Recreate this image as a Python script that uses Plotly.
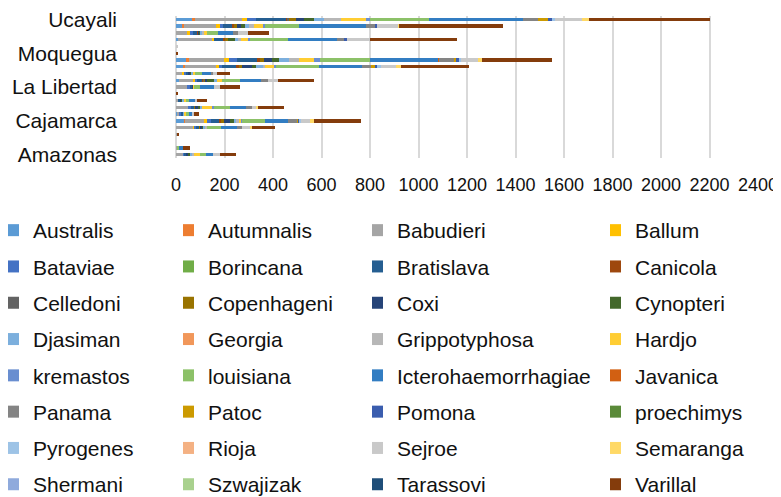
import plotly.graph_objects as go

regions = ["Amazonas", "Áncash", "Apurímac", "Arequipa", "Ayacucho", "Cajamarca",
           "Callao", "Cusco", "Huánuco", "Junín", "La Libertad", "Lambayeque", "Lima",
           "Loreto", "Madre de Dios", "Moquegua", "Pasco", "Piura", "San Martín",
           "Tumbes", "Ucayali"]
shown_ticks = ["Amazonas", "Cajamarca", "La Libertad", "Moquegua", "Ucayali"]
x_ticks = [0, 200, 400, 600, 800, 1000, 1200, 1400, 1600, 1800, 2000, 2200, 2400]

australis = [0, 0, 0, 4, 0, 35, 6, 0, 0, 4, 0, 11, 0, 32, 42, 0, 0, 7, 0, 25, 65]
autumnalis = [0, 0, 0, 0, 0, 4, 0, 0, 0, 0, 0, 0, 0, 4, 11, 0, 0, 0, 0, 10, 15]
babudieri = [30, 6, 0, 4, 71, 76, 10, 53, 12, 0, 48, 62, 28, 127, 144, 0, 0, 142, 49, 130, 193]
ballum = [0, 0, 0, 0, 5, 14, 0, 0, 0, 0, 0, 7, 5, 16, 23, 0, 0, 7, 7, 18, 21]
bataviae = [5, 0, 0, 0, 5, 14, 8, 8, 0, 0, 8, 8, 8, 11, 32, 0, 0, 0, 14, 11, 34]
borincana = [0] * 21
bratislava = [10, 0, 0, 0, 14, 38, 6, 14, 6, 0, 10, 20, 10, 58, 82, 0, 0, 41, 18, 37, 124]
canicola = [0, 0, 0, 0, 0, 5, 0, 0, 0, 0, 0, 4, 0, 11, 11, 0, 0, 8, 3, 7, 9]
celledoni = [0, 0, 0, 0, 0, 0, 0, 0, 0, 0, 0, 4, 0, 0, 0, 0, 0, 0, 0, 0, 7]
copenhageni = [0, 0, 0, 0, 4, 11, 0, 5, 0, 0, 0, 5, 0, 14, 19, 0, 0, 8, 3, 14, 28]
coxi = [8, 0, 0, 0, 10, 25, 0, 10, 5, 0, 5, 8, 8, 41, 32, 0, 0, 0, 4, 16, 31]
cynopteri = [7, 0, 0, 0, 5, 19, 0, 10, 5, 0, 0, 27, 6, 16, 30, 0, 0, 32, 3, 18, 41]
djasiman = [7, 0, 0, 0, 8, 8, 6, 8, 5, 0, 0, 14, 6, 32, 41, 0, 0, 14, 7, 14, 41]
georgia = [0] * 21
grippotyphosa = [7, 0, 0, 0, 7, 10, 0, 0, 0, 0, 0, 0, 0, 7, 39, 0, 0, 8, 7, 20, 73]
hardjo = [27, 0, 0, 0, 0, 10, 8, 41, 8, 0, 5, 21, 9, 34, 65, 0, 0, 34, 11, 41, 103]
kremastos = [0, 0, 0, 0, 0, 5, 0, 7, 0, 0, 0, 0, 0, 11, 21, 0, 0, 4, 0, 4, 16]
louisiana = [21, 8, 0, 0, 58, 92, 8, 66, 12, 0, 25, 71, 28, 174, 210, 0, 0, 157, 48, 143, 243]
icterohaemorrhagiae = [32, 14, 0, 0, 63, 96, 16, 65, 27, 0, 55, 87, 38, 179, 279, 0, 0, 202, 62, 276, 385]
javanica = [0, 0, 0, 0, 0, 0, 0, 0, 0, 0, 0, 0, 0, 0, 5, 0, 0, 0, 0, 0, 0]
panama = [0, 0, 0, 0, 23, 38, 0, 25, 0, 0, 0, 30, 5, 38, 62, 0, 0, 28, 21, 37, 63]
patoc = [0, 0, 0, 0, 0, 5, 0, 0, 0, 0, 0, 0, 0, 16, 5, 0, 0, 0, 0, 0, 44]
pomona = [0, 0, 0, 0, 0, 5, 0, 0, 0, 0, 0, 0, 0, 9, 14, 0, 0, 12, 0, 9, 14]
proechimys = [0] * 21
pyrogenes = [0, 0, 0, 0, 0, 4, 0, 0, 0, 0, 0, 0, 0, 14, 8, 0, 0, 0, 0, 0, 14]
rioja = [0] * 21
sejroe = [27, 0, 0, 0, 34, 38, 6, 21, 7, 0, 25, 41, 20, 63, 72, 0, 6, 98, 41, 87, 110]
semaranga = [0, 0, 0, 0, 5, 18, 0, 5, 0, 0, 0, 0, 0, 19, 14, 0, 0, 0, 0, 4, 30]
shermani = [0] * 21
szwajizak = [0] * 21
tarassovi = [0] * 21
varillal = [68, 28, 0, 4, 96, 193, 20, 107, 41, 4, 82, 149, 52, 283, 289, 6, 0, 357, 87, 429, 496]

series = [
    ("Australis", australis, "#5B9BD5"), ("Autumnalis", autumnalis, "#ED7D31"),
    ("Babudieri", babudieri, "#A5A5A5"), ("Ballum", ballum, "#FFC000"),
    ("Bataviae", bataviae, "#4472C4"), ("Borincana", borincana, "#70AD47"),
    ("Bratislava", bratislava, "#255E91"), ("Canicola", canicola, "#9E480E"),
    ("Celledoni", celledoni, "#636363"), ("Copenhageni", copenhageni, "#997300"),
    ("Coxi", coxi, "#264478"), ("Cynopteri", cynopteri, "#43682B"),
    ("Djasiman", djasiman, "#7CAFDD"), ("Georgia", georgia, "#F1975A"),
    ("Grippotyphosa", grippotyphosa, "#B7B7B7"), ("Hardjo", hardjo, "#FFCD33"),
    ("kremastos", kremastos, "#698ED0"), ("louisiana", louisiana, "#8CC168"),
    ("Icterohaemorrhagiae", icterohaemorrhagiae, "#327DC2"), ("Javanica", javanica, "#D26012"),
    ("Panama", panama, "#848484"), ("Patoc", patoc, "#CC9A00"),
    ("Pomona", pomona, "#3A5DAE"), ("proechimys", proechimys, "#5A8A39"),
    ("Pyrogenes", pyrogenes, "#9DC3E6"), ("Rioja", rioja, "#F4B183"),
    ("Sejroe", sejroe, "#C9C9C9"), ("Semaranga", semaranga, "#FFD966"),
    ("Shermani", shermani, "#8FAADC"), ("Szwajizak", szwajizak, "#A9D18E"),
    ("Tarassovi", tarassovi, "#1F4E79"), ("Varillal", varillal, "#843C0C"),
]

FONT = "Liberation Sans, Arial, sans-serif"
TXT = "#111111"
# page body has an 8px margin, so the figure is 8px smaller on each axis
W, H = 773, 489

legend_ids = ["legend", "legend2", "legend3", "legend4"]
fig = go.Figure()
for i, (name, vals, color) in enumerate(series):
    fig.add_trace(go.Bar(
        y=regions, x=vals, orientation="h", name=name,
        marker=dict(color=color, line=dict(width=0)),
        legend=legend_ids[i % 4], legendgroup=name,
    ))

col_x = [0, 175, 364, 602]
legend_top = 202
leg_common = dict(orientation="v", xref="container", yref="container",
                  xanchor="left", yanchor="top", traceorder="grouped",
                  tracegroupgap=6, indentation=-15, maxheight=400,
                  font=dict(family=FONT, size=21, color=TXT),
                  bgcolor="rgba(0,0,0,0)", borderwidth=0)
legends = {}
for k, lid in enumerate(legend_ids):
    legends[lid] = dict(leg_common, x=col_x[k] / W, y=1 - legend_top / H)

fig.update_layout(
    width=W, height=H,
    barmode="stack", bargap=0.5,
    paper_bgcolor="white", plot_bgcolor="white",
    margin=dict(l=168, r=23, t=7.6, b=338.6, autoexpand=False),
    font=dict(family=FONT, color=TXT),
    **legends,
    xaxis=dict(range=[0, 2400], tickvals=x_ticks, showgrid=True,
               gridcolor="#D9D9D9", gridwidth=1.5, zeroline=True,
               zerolinecolor="#D9D9D9", zerolinewidth=1.5,
               tickfont=dict(family=FONT, size=18, color=TXT),
               ticklabelstandoff=14, showline=False, fixedrange=True),
    yaxis=dict(type="category", categoryorder="array", categoryarray=regions,
               tickmode="array", tickvals=shown_ticks, showgrid=False,
               tickfont=dict(family=FONT, size=21, color=TXT),
               ticklabelstandoff=58, showline=False, range=[-0.5, 20.5]),
)

fig.write_html("out.html")
